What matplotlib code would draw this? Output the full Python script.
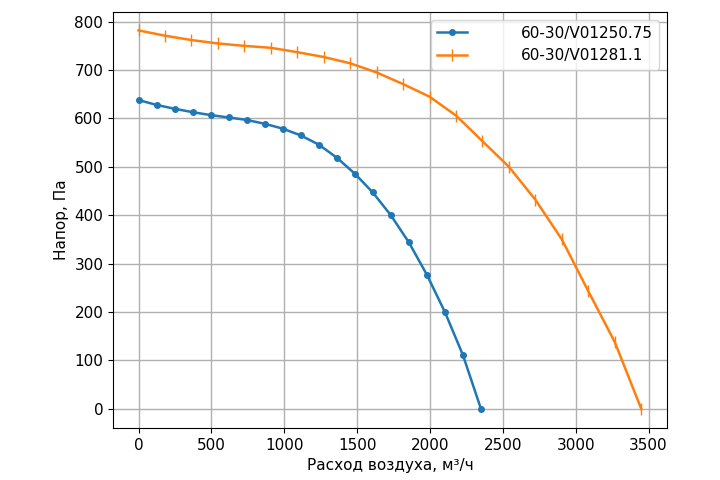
import numpy as np
import matplotlib
matplotlib.use("Agg")
import matplotlib.pyplot as plt

plt.rcParams['font.size'] = 11

# Данные
rashod_1 = np.linspace(0, 2350, 20)
napor_1 = [638, 628, 620, 613, 607, 602, 597, 589, 579, 565,
           546, 519, 486, 447, 400, 344, 277, 200, 111, 0]

rashod_2 = np.linspace(0, 3450, 20)
napor_2 = [782, 771, 762, 755, 750, 746, 737, 727, 714, 695,
           671, 645, 606, 553, 500, 432, 350, 243, 138, 0]

nomes = ['60-30/V01250.75', '60-30/V01281.1']

fig, ax = plt.subplots(figsize=(7.2, 4.8), dpi=100)
fig.subplots_adjust(left=0.157, right=0.926, top=0.975, bottom=0.108)

ax.plot(rashod_1, napor_1, marker='o', markersize=4, linewidth=1.8,
        color='#1f77b4', label=nomes[0])
ax.plot(rashod_2, napor_2, marker='|', markersize=8, linewidth=1.8,
        color='#ff7f0e', label=nomes[1])

ax.set_xlim(-175, 3625)
ax.set_ylim(-40, 820)
ax.set_xticks(np.arange(0, 3501, 500))
ax.set_yticks(np.arange(0, 801, 100))
ax.grid(True, color='#b0b0b0', linewidth=1.0)
ax.set_xlabel('Расход воздуха, м³/ч')
ax.set_ylabel('Напор, Па')
ax.legend(loc='upper right', handletextpad=3.5)

plt.savefig('out.png', dpi=100)
